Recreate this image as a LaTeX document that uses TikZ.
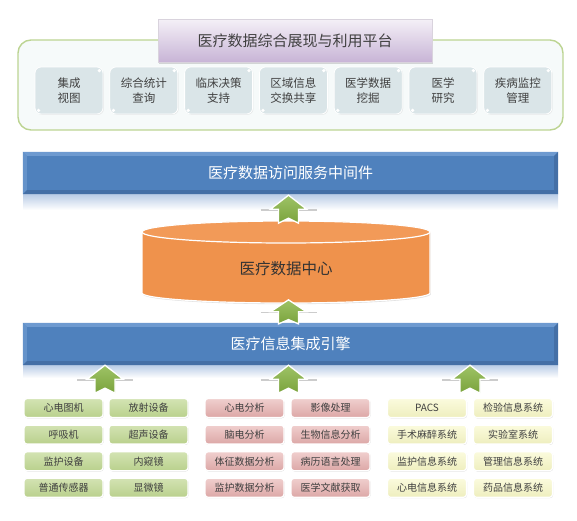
\documentclass[tikz,border=0pt]{standalone}
\usepackage{fontspec}
\setmainfont{Noto Sans CJK SC}
\usetikzlibrary{shadows,calc}
\definecolor{txtgray}{HTML}{404040}
\definecolor{contborder}{HTML}{BCD492}
\definecolor{contfill}{HTML}{F6FAFA}
\definecolor{topboxfill}{HTML}{DAE5E8}
\definecolor{titletop}{HTML}{F4F0F7}
\definecolor{titlebot}{HTML}{C8B4D6}
\definecolor{barblue}{HTML}{4F81BD}
\definecolor{barlight}{HTML}{6E9AD0}
\definecolor{bardark}{HTML}{446FA6}
\definecolor{reflblue}{HTML}{B9CCE6}
\definecolor{cylorange}{HTML}{EF924C}
\definecolor{cyltop}{HTML}{F29A58}
\definecolor{arrgreen}{HTML}{8DB84B}
\definecolor{arrgreendark}{HTML}{7AA33C}
\definecolor{greentop}{HTML}{D3E3B3}
\definecolor{greenbot}{HTML}{B9D08C}
\definecolor{pinktop}{HTML}{F0CFCE}
\definecolor{pinkbot}{HTML}{DCA7A6}
\definecolor{yellowtop}{HTML}{FBFBDD}
\definecolor{yellowbot}{HTML}{EEEEBE}
\begin{document}
\begin{tikzpicture}[x=1pt,y=-1pt,
  container/.style={draw=contborder, line width=1.4pt, fill=contfill, rounded corners=13pt,
    minimum width=545pt, minimum height=90pt},
  titlebox/.style={draw=titlebot!80!black!40!white, line width=0.4pt, top color=titletop, bottom color=titlebot,
    minimum width=274pt, minimum height=43pt, font=\fontsize{15}{18}\selectfont, text=txtgray,
    drop shadow={opacity=0.3, shadow xshift=1pt, shadow yshift=-1.5pt}},
  topbox/.style={fill=topboxfill, draw=white, line width=0.8pt, rounded corners=6pt,
    minimum width=68pt, minimum height=47pt, align=center, text=txtgray,
    font=\fontsize{11.5}{15}\selectfont,
    drop shadow={opacity=0.15, shadow xshift=0.8pt, shadow yshift=-0.8pt}},
  bluebar/.style={fill=barblue, minimum width=535pt, minimum height=42pt, text=white,
    font=\fontsize{15}{18}\selectfont},
  smallbox/.style={rounded corners=3pt, draw=white, line width=1.3pt,
    minimum width=79pt, minimum height=19pt, text=txtgray, inner sep=0pt,
    font=\fontsize{10}{12}\selectfont,
    drop shadow={opacity=0.3, shadow xshift=0.6pt, shadow yshift=-0.8pt}},
  greenbox/.style={smallbox, top color=greentop, bottom color=greenbot},
  pinkbox/.style={smallbox, top color=pinktop, bottom color=pinkbot},
  yellowbox/.style={smallbox, top color=yellowtop, bottom color=yellowbot},
  uparr/.pic={
    \draw[black!20, line width=1.5pt] (-28,15) -- (28,15);
    \path[draw=white, line width=1.3pt, top color=arrgreen!85!white, bottom color=arrgreendark, line join=miter]
      (0,0) -- (18,14) -- (10,14) -- (10,28) -- (0,23) -- (-10,28) -- (-10,14) -- (-18,14) -- cycle;
  }
]
\useasboundingbox (0,0) rectangle (577,520);

% ---------------- top platform ----------------
\node[container] (plat) at (290.5,85) {};
\node[titlebox] (title) at (295,40.5) {医疗数据综合展现与利用平台};

\foreach \i/\t in {0/{集成\\视图},1/{综合统计\\查询},2/{临床决策\\支持},3/{区域信息\\交换共享},
                   4/{医学数据\\挖掘},5/{医学\\研究},6/{疾病监控\\管理}}{
  \node[topbox] (tb\i) at (69+74.8*\i,90.5) {\t};
  \fill[white] ($(tb\i.north east)+(-4,4)$) circle (1.8pt);
  \fill[white] ($(tb\i.south west)+(4,-4)$) circle (1.8pt);
}

% ---------------- middleware bar ----------------
\fill[top color=reflblue, bottom color=white] (23,194) rectangle (558,210);
\node[bluebar] (bar1) at (290.5,173) {医疗数据访问服务中间件};
\fill[barlight] (bar1.north west) -- (bar1.north east) -- ++(-4,4) -- ($(bar1.north west)+(4,4)$) -- cycle;
\fill[barlight!70!barblue] (bar1.north west) -- ++(4,4) -- ($(bar1.south west)+(4,-4)$) -- (bar1.south west) -- cycle;
\fill[bardark] (bar1.north east) -- ++(-4,4) -- ($(bar1.south east)+(-4,-4)$) -- (bar1.south east) -- cycle;
\fill[bardark] (bar1.south west) -- ++(4,-4) -- ($(bar1.south east)+(-4,-4)$) -- (bar1.south east) -- cycle;

% ---------------- data center cylinder ----------------
\path[fill=cylorange, draw=white, line width=1.2pt, drop shadow={opacity=0.25, shadow xshift=0.8pt, shadow yshift=-1.2pt}]
  (142,232) -- (142,293) arc[start angle=180, end angle=360, x radius=144pt, y radius=10pt]
  -- (430,232) arc[start angle=0, end angle=180, x radius=144pt, y radius=11pt] -- cycle;
\draw[white, line width=1.2pt, fill=cyltop] (286,232) ellipse [x radius=144pt, y radius=11pt];
\node[minimum width=288pt, minimum height=82pt, inner sep=0pt] (dc) at (286,262) {};
\node[text=black!80, font=\fontsize{15.5}{18}\selectfont] (dctext) at (286,269) {医疗数据中心};

% ---------------- integration engine bar ----------------
\fill[top color=reflblue, bottom color=white] (23,365) rectangle (558,378);
\node[bluebar] (bar2) at (290.5,344) {医疗信息集成引擎};
\fill[barlight] (bar2.north west) -- (bar2.north east) -- ++(-4,4) -- ($(bar2.north west)+(4,4)$) -- cycle;
\fill[barlight!70!barblue] (bar2.north west) -- ++(4,4) -- ($(bar2.south west)+(4,-4)$) -- (bar2.south west) -- cycle;
\fill[bardark] (bar2.north east) -- ++(-4,4) -- ($(bar2.south east)+(-4,-4)$) -- (bar2.south east) -- cycle;
\fill[bardark] (bar2.south west) -- ++(4,-4) -- ($(bar2.south east)+(-4,-4)$) -- (bar2.south east) -- cycle;

% ---------------- bottom boxes ----------------
\foreach \r/\a/\b in {0/心电图机/放射设备, 1/呼吸机/超声设备, 2/监护设备/内窥镜, 3/普通传感器/显微镜}{
  \node[greenbox] (ga\r) at (63.5,408+26.6*\r) {\a};
  \node[greenbox] (gb\r) at (148.5,408+26.6*\r) {\b};
}
\foreach \r/\a/\b in {0/心电分析/影像处理, 1/脑电分析/生物信息分析, 2/体征数据分析/病历语言处理, 3/监护数据分析/医学文献获取}{
  \node[pinkbox] (pa\r) at (244.5,408+26.6*\r) {\a};
  \node[pinkbox] (pb\r) at (330.5,408+26.6*\r) {\b};
}
\foreach \r/\a/\b in {0/PACS/检验信息系统, 1/手术麻醉系统/实验室系统, 2/监护信息系统/管理信息系统, 3/心电信息系统/药品信息系统}{
  \node[yellowbox] (ya\r) at (427,408+26.6*\r) {\a};
  \node[yellowbox] (yb\r) at (513,408+26.6*\r) {\b};
}

% ---------------- arrows ----------------
\pic at ($(bar1.south)+(-2,1)$) {uparr};
\pic[yscale=0.86] at ($(bar2.north)+(-2,-23)$) {uparr};
\pic at ($(bar2.south)+(-185.5,0)$) {uparr};
\pic at ($(bar2.south)+(-2,0)$) {uparr};
\pic at ($(bar2.south)+(179.5,0)$) {uparr};
\end{tikzpicture}
\end{document}
